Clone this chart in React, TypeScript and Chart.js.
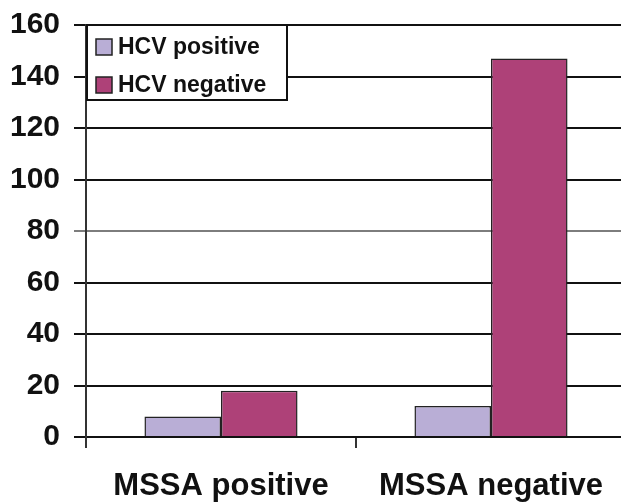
import React, { useEffect, useRef } from "react";
import { Chart, registerables } from "chart.js";

Chart.register(...registerables);

const categories = ["MSSA positive", "MSSA negative"];
const hcvPositive = [8, 12];
const hcvNegative = [18, 147];
const seriesNames = ["HCV positive", "HCV negative"];
const seriesColors = ["#b9aed6", "#ae4178"];
const yTicks = [0, 20, 40, 60, 80, 100, 120, 140, 160];

const FONT = "'Liberation Sans', Arial, Helvetica, sans-serif";

const legendPlugin = {
  id: "boxLegend",
  afterDraw(chart: any) {
    const { ctx, chartArea } = chart;
    const x0 = chartArea.left + 1;
    const y0 = chartArea.top;
    const w = 200;
    const h = 75;
    ctx.save();
    ctx.fillStyle = "#ffffff";
    ctx.fillRect(x0, y0, w, h);
    ctx.strokeStyle = "#111";
    ctx.lineWidth = 2;
    ctx.strokeRect(x0, y0, w, h);
    ctx.font = `bold 23px ${FONT}`;
    ctx.textBaseline = "middle";
    chart.data.datasets.forEach((ds: any, i: number) => {
      const cy = y0 + 22 + i * 38;
      ctx.fillStyle = ds.backgroundColor;
      ctx.fillRect(x0 + 9, cy - 8, 16, 16);
      ctx.strokeStyle = "#222";
      ctx.lineWidth = 1.5;
      ctx.strokeRect(x0 + 9, cy - 8, 16, 16);
      ctx.fillStyle = "#111";
      ctx.fillText(ds.label, x0 + 31, cy + 1);
    });
    ctx.restore();
  },
};

export default function App() {
  const ref = useRef<HTMLCanvasElement>(null);
  useEffect(() => {
    if (!ref.current) return;
    const chart = new Chart(ref.current, {
      type: "bar",
      data: {
        labels: categories,
        datasets: [
          {
            label: seriesNames[0],
            data: hcvPositive,
            backgroundColor: seriesColors[0],
            borderColor: "#222",
            borderWidth: 1.5,
            categoryPercentage: 0.567,
            barPercentage: 1,
          },
          {
            label: seriesNames[1],
            data: hcvNegative,
            backgroundColor: seriesColors[1],
            borderColor: "#222",
            borderWidth: 1.5,
            categoryPercentage: 0.567,
            barPercentage: 1,
          },
        ],
      },
      options: {
        responsive: false,
        animation: false,
        layout: { padding: { top: 17, right: 0, left: 0, bottom: 0 } },
        plugins: { legend: { display: false }, tooltip: { enabled: false } },
        scales: {
          x: {
            grid: {
              drawOnChartArea: false,
              drawTicks: true,
              tickLength: 11,
              color: "#333",
              lineWidth: 2,
              offset: true,
            },
            border: { display: true, color: "#111", width: 2 },
            ticks: {
              color: "#111",
              font: { family: FONT, size: 31, weight: "bold" },
              padding: 20,
            },
            afterFit(scale: any) {
              scale.height = 65;
            },
          },
          y: {
            min: 0,
            max: 160,
            afterBuildTicks(scale: any) {
              scale.ticks = yTicks.map((v) => ({ value: v }));
            },
            grid: {
              color: (c: any) => (c.tick && c.tick.value === 80 ? "#7d7d7d" : "#111"),
              lineWidth: 2,
              tickLength: 12,
            },
            border: { display: true, color: "#333", width: 2 },
            ticks: {
              color: "#111",
              font: { family: FONT, size: 30, weight: "bold" },
              padding: 14,
            },
            afterFit(scale: any) {
              scale.width = 86;
            },
          },
        },
      },
      plugins: [legendPlugin],
    });
    return () => chart.destroy();
  }, []);
  return (
    <div
      style={{
        position: "fixed",
        left: 0,
        top: 0,
        width: 621,
        height: 502,
        overflow: "hidden",
        background: "#fff",
      }}
    >
      <canvas
        ref={ref}
        width={626}
        height={509}
        style={{ display: "block", marginTop: -7 }}
      />
    </div>
  );
}
